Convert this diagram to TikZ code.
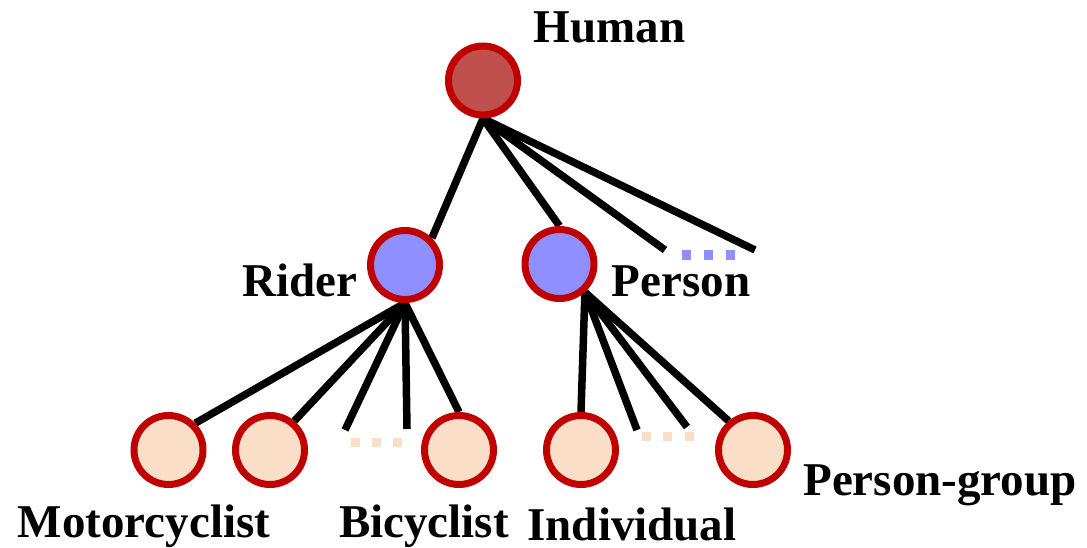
\documentclass[tikz,border=0pt]{standalone}
\usepackage{fontspec}
\setmainfont{Liberation Serif}
\usepackage{tikz}
\usetikzlibrary{backgrounds}
\definecolor{ringred}{HTML}{C00000}
\definecolor{toprose}{HTML}{C0504D}
\definecolor{midblue}{HTML}{8F8FFF}
\definecolor{leafpeach}{HTML}{FADEC8}
\def\drawedge{\draw[line width=7.5pt]}
\def\catnode{\node[circle,draw=ringred,line width=7pt,minimum size=69pt,inner sep=0pt]}
\def\catlabel{\node[anchor=base,inner sep=0pt,font=\bfseries\fontsize{47}{50}\selectfont]}

\begin{document}
\begin{tikzpicture}[x=1pt,y=-1pt]
\useasboundingbox (0,0) rectangle (1087,548);

% -------- category circles ---------
\catnode[fill=toprose] (human) at (483,80.5) {};
\catnode[fill=midblue] (rider) at (405,265) {};
\catnode[fill=midblue] (person) at (559.5,264) {};
\catnode[fill=leafpeach] (moto) at (168.5,450) {};
\catnode[fill=leafpeach] (rider2) at (270,450) {};
\catnode[fill=leafpeach] (bicy) at (459,450) {};
\catnode[fill=leafpeach] (indiv) at (581,450) {};
\catnode[fill=leafpeach] (pgroup) at (753,450) {};

% open ends of the edges that lead to the elided children
\coordinate (hend3) at (665,250);
\coordinate (hend4) at (755,250);
\coordinate (rend3) at (345,430);
\coordinate (rend4) at (407,429);
\coordinate (pend2) at (637,430);
\coordinate (pend3) at (687,427);

% -------- edges, kept under the circles ---------
\begin{pgfonlayer}{background}
\drawedge (human.south) -- (rider.45);
\drawedge (human.south) -- (person.north);
\drawedge (human.south) -- (hend3);
\drawedge (human.south) -- (hend4);

\drawedge (rider.south) -- (moto.45);
\drawedge (rider.south) -- (rider2.50);
\drawedge (rider.south) -- (rend3);
\drawedge (rider.south) -- (rend4);
\drawedge (rider.south) -- (bicy.north);

\drawedge (person.-48) -- (indiv.north);
\drawedge (person.-48) -- (pend2);
\drawedge (person.-48) -- (pend3);
\drawedge (person.-48) -- (pgroup.130);
\end{pgfonlayer}

% "more" dots
\foreach \x in {686,708,730}
  \fill[midblue] (\x-4.5,250.5) rectangle ++(9,9);
\foreach \x in {355,376,397}
  \fill[leafpeach] (\x-4.5,437.5) rectangle ++(9,9);
\foreach \x in {646,667,689}
  \fill[leafpeach] (\x-4.5,431.5) rectangle ++(9,9);

% -------- labels ---------
\catlabel (humanlbl) at (609.5,43) {Human};
\catlabel (riderlbl) at (300,296) {Rider};
\catlabel (personlbl) at (681,296) {Person};
\catlabel (motolbl) at (144,537) {Motorcyclist};
\catlabel (bicylbl) at (424,537) {Bicyclist};
\catlabel (indivlbl) at (632,540) {Individual};
\catlabel (pgrouplbl) at (940,495) {Person-group};
\end{tikzpicture}
\end{document}
